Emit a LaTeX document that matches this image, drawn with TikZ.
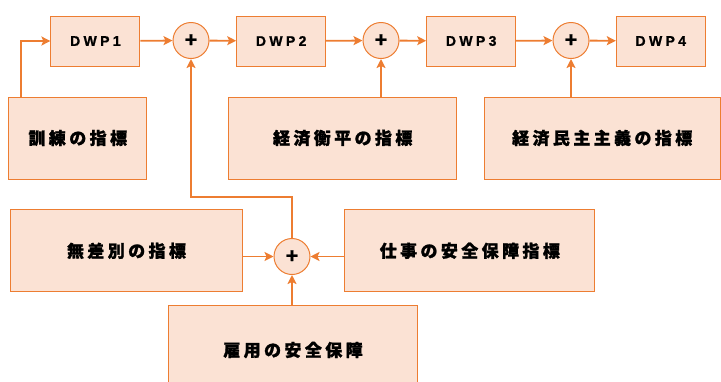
\documentclass[tikz,border=0pt]{standalone}
\usepackage{fontspec}
\usetikzlibrary{arrows.meta}
\newfontfamily\jpfont[LetterSpace=20,BoldFeatures={FakeBold=1.3}]{Noto Sans CJK JP}
\newfontfamily\latfont[LetterSpace=24,BoldFeatures={FakeBold=1}]{Liberation Sans}
\newfontfamily\plusfont[BoldFeatures={FakeBold=1}]{Liberation Sans}
\definecolor{boxfill}{HTML}{FBE2D4}
\definecolor{boxline}{HTML}{ED7D31}
\tikzset{
  x=1pt,y=-1pt,
  box/.style={draw=boxline,fill=boxfill,line width=1pt,inner sep=0pt,
    font=\jpfont\bfseries\fontsize{17}{17}\selectfont},
  dwp/.style={box,minimum width=89pt,minimum height=50pt,
    font=\latfont\bfseries\fontsize{14}{14}\selectfont},
  sumnode/.style={circle,draw=boxline,fill=boxfill,line width=1pt,inner sep=0pt,
    minimum size=36pt,font=\plusfont\bfseries\fontsize{21}{21}\selectfont},
  conn/.style={draw=boxline,line width=1.8pt,
    -{Stealth[length=9pt,width=9pt,inset=2pt]}},
}
\begin{document}
\begin{tikzpicture}
\useasboundingbox (0,0) rectangle (721,381);
% top row
\node[dwp] (d1) at (95.4,41) {DWP1};
\node[sumnode] (c1) at (191,40.5) {+};
\node[dwp] (d2) at (281.2,41) {DWP2};
\node[sumnode] (c2) at (381,40.5) {+};
\node[dwp] (d3) at (471.2,41) {DWP3};
\node[sumnode] (c3) at (571,40.5) {+};
\node[dwp] (d4) at (660.8,41) {DWP4};
% second row
\node[box,minimum width=137.7pt,minimum height=82pt] (b1) at (77.8,138) {訓練の指標};
\node[box,minimum width=228pt,minimum height=82pt] (b2) at (342.7,138) {経済衡平の指標};
\node[box,minimum width=235.7pt,minimum height=82pt] (b3) at (602.2,138) {経済民主主義の指標};
% bottom cluster
\node[sumnode] (c4) at (292,256.5) {+};
\node[box,minimum width=231.6pt,minimum height=81.7pt] (b4) at (126.5,250.8) {無差別の指標};
\node[box,minimum width=249.7pt,minimum height=81.7pt] (b5) at (469.8,250.8) {仕事の安全保障指標};
\node[box,minimum width=249.4pt,minimum height=88.6pt] (b6) at (293,350) {雇用の安全保障};
\coordinate (k1) at (21.3,0);
\coordinate (k2) at (0,197);
% connectors
\draw[conn] (d1) -- (c1);
\draw[conn] (c1) -- (d2);
\draw[conn] (d2) -- (c2);
\draw[conn] (c2) -- (d3);
\draw[conn] (d3) -- (c3);
\draw[conn] (c3) -- (d4);
\draw[conn] (b1.north -| k1) |- (d1.west);
\draw[conn] (b2.north -| c2) -- (c2.south);
\draw[conn] (b3.north -| c3) -- (c3.south);
\draw[conn] (c4.north) -- (c4.north |- k2) -- (c1.south |- k2) -- (c1.south);
\draw[conn] (b4.east |- c4) -- (c4.west);
\draw[conn] (b5.west |- c4) -- (c4.east);
\draw[conn] (b6.north -| c4) -- (c4.south);
\end{tikzpicture}
\end{document}
